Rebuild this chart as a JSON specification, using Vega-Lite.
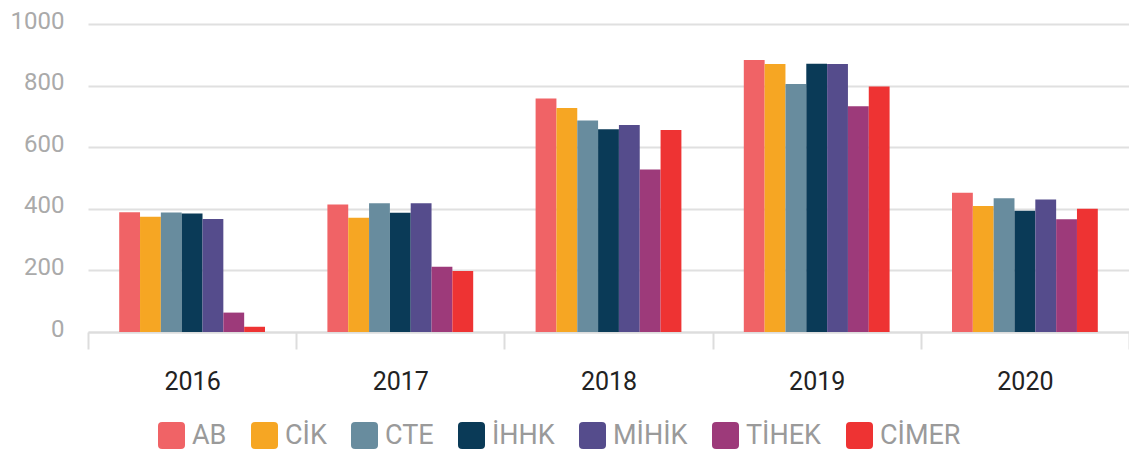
{
  "$schema": "https://vega.github.io/schema/vega-lite/v6.json",
  "width": 1041,
  "height": 308,
  "autosize": {"type": "none"},
  "padding": {"left": 88, "top": 24, "right": 0, "bottom": 125},
  "background": "white",
  "config": {
    "font": "Roboto",
    "view": {"stroke": null},
    "axis": {"labelFont": "Roboto"},
    "legend": {"labelFont": "Roboto"}
  },
  "data": {
    "values": [
      {"year": "2016", "org": "AB", "value": 389},
      {"year": "2016", "org": "CİK", "value": 374},
      {"year": "2016", "org": "CTE", "value": 388},
      {"year": "2016", "org": "İHHK", "value": 385},
      {"year": "2016", "org": "MİHİK", "value": 367},
      {"year": "2016", "org": "TİHEK", "value": 63},
      {"year": "2016", "org": "CİMER", "value": 17},
      {"year": "2017", "org": "AB", "value": 414},
      {"year": "2017", "org": "CİK", "value": 371},
      {"year": "2017", "org": "CTE", "value": 418},
      {"year": "2017", "org": "İHHK", "value": 387},
      {"year": "2017", "org": "MİHİK", "value": 418},
      {"year": "2017", "org": "TİHEK", "value": 212},
      {"year": "2017", "org": "CİMER", "value": 198},
      {"year": "2018", "org": "AB", "value": 758},
      {"year": "2018", "org": "CİK", "value": 727},
      {"year": "2018", "org": "CTE", "value": 687},
      {"year": "2018", "org": "İHHK", "value": 658},
      {"year": "2018", "org": "MİHİK", "value": 672},
      {"year": "2018", "org": "TİHEK", "value": 528},
      {"year": "2018", "org": "CİMER", "value": 656},
      {"year": "2019", "org": "AB", "value": 883},
      {"year": "2019", "org": "CİK", "value": 870},
      {"year": "2019", "org": "CTE", "value": 805},
      {"year": "2019", "org": "İHHK", "value": 871},
      {"year": "2019", "org": "MİHİK", "value": 870},
      {"year": "2019", "org": "TİHEK", "value": 733},
      {"year": "2019", "org": "CİMER", "value": 797},
      {"year": "2020", "org": "AB", "value": 452},
      {"year": "2020", "org": "CİK", "value": 409},
      {"year": "2020", "org": "CTE", "value": 434},
      {"year": "2020", "org": "İHHK", "value": 394},
      {"year": "2020", "org": "MİHİK", "value": 430},
      {"year": "2020", "org": "TİHEK", "value": 366},
      {"year": "2020", "org": "CİMER", "value": 400}
    ]
  },
  "mark": {"type": "bar"},
  "encoding": {
    "x": {
      "field": "year",
      "type": "nominal",
      "scale": {"paddingInner": 0, "paddingOuter": 0},
      "axis": {
        "title": null,
        "labelAngle": 0,
        "labelFontSize": 25,
        "labelColor": "#222222",
        "labelPadding": 20,
        "domainColor": "#dddddd",
        "domainWidth": 2,
        "tickColor": "#dddddd",
        "tickWidth": 2,
        "tickSize": 17,
        "tickBand": "extent",
        "grid": false
      }
    },
    "xOffset": {
      "field": "org",
      "type": "nominal",
      "sort": ["AB", "CİK", "CTE", "İHHK", "MİHİK", "TİHEK", "CİMER"],
      "scale": {"paddingInner": 0, "paddingOuter": 0, "range": [31.2, 177]}
    },
    "y": {
      "field": "value",
      "type": "quantitative",
      "scale": {"domain": [0, 1000]},
      "axis": {
        "title": null,
        "values": [0, 200, 400, 600, 800, 1000],
        "format": "d",
        "labelFontSize": 24,
        "labelColor": "#aaaaaa",
        "labelPadding": 24,
        "labelOffset": -3,
        "domain": false,
        "ticks": false,
        "gridColor": "#e0e0e0",
        "gridWidth": 2
      }
    },
    "color": {
      "field": "org",
      "type": "nominal",
      "scale": {
        "domain": ["AB", "CİK", "CTE", "İHHK", "MİHİK", "TİHEK", "CİMER"],
        "range": ["#F06366", "#F6A623", "#688C9E", "#0A3A57", "#554C8C", "#9D3A7A", "#EE3333"]
      },
      "legend": {
        "title": null,
        "orient": "none",
        "direction": "horizontal",
        "legendX": 70,
        "legendY": 398,
        "symbolType": "M-0.7,-1 L0.7,-1 Q1,-1 1,-0.7 L1,0.7 Q1,1 0.7,1 L-0.7,1 Q-1,1 -1,0.7 L-1,-0.7 Q-1,-1 -0.7,-1 Z",
        "symbolSize": 729,
        "symbolStrokeWidth": 0,
        "symbolOpacity": 1,
        "labelFontSize": 27,
        "labelColor": "#9a9a9a",
        "labelOffset": 7,
        "columnPadding": 24,
        "labelLimit": 300
      }
    }
  }
}
